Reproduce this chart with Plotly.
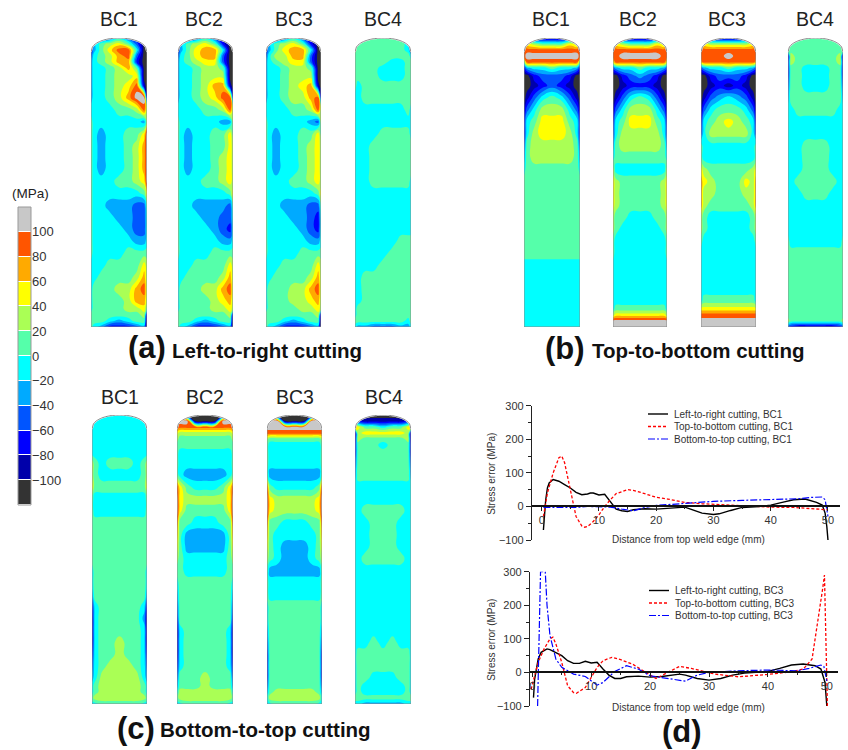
import numpy as np
import plotly.graph_objects as go

W, H = 848, 750
# contour grid: column position (fraction of plate width) and row position (px-like height units)
COLS = [0, .05, .18, .33, .5, .67, .82, .95, 1]
ROWS = [0,6,12,18,24,30,38,48,60,72,84,96,108,120,132,144,156,168,180,192,204,216,228,240,252,264,272,278,284,290]
# band letter -> stress in MPa (mid-band)
BANDS = "abcdefghijkl"
BAND_MPA = [-110,-90,-70,-50,-30,-10,10,30,50,70,90,110]
BAND_COLORS = ["#333333","#0000aa","#0000ff","#0055ff","#00aaff","#00ffff","#55ffaa","#aaff55","#ffff00","#ffaa00","#ff5500","#c8c8c8"]
COLORBAR_TICKS = [-100,-80,-60,-40,-20,0,20,40,60,80,100]

A_BC1 = ["cccdfdcaa","ceghigdaa","cegikkfaa","dfghjkdaa","efghjjcaa","effghjgaa","effghhiaa","effghikba","effghjllb","ffffgghkh",
"gffffffeh","gfeffggil","gfeffghjl","gfeffghjl","gfeffghjl","gfffgghil","gffffffgi","gffeeeddg","gfffeeddf","gffffeddf",
"gfffffeef","gffffgggg","fffggggih","ffgggghjh","fggghhjkh","fgggghjjh","fgggghhig","ggggggghb","gggfefgga","gfecccdea"]
A_BC2 = ["cccdfdbaa","ceghigcaa","cegijjfaa","dfgijjdaa","efghiidaa","effghhgaa","effghhhaa","effghjjba","effghikkc","ffffgghkh",
"gfffffeeh","gfeffggig","gfeffggih","gfeffghih","gfeffghih","gfffgghih","gffffffgi","gffeeeedg","gfffeeddf","gffffedcf",
"gfffffeef","gffffgggg","fffggggih","ffgggghjh","fggghhjkh","fgggghijh","fgggghhih","ggggggghb","gggfefgga","gfecccdea"]
A_BC3 = ["cccdfdbaa","ceghigcaa","cegijjfaa","dfhhjjdaa","efghiidaa","effghhgaa","effghhhaa","effghijba","effghhjkc","ffffgghkh",
"gfffffedh","gfeffggig","gfeffghih","gfeffghih","gfeffghih","gfffgghih","gffffffgi","gffeeeddg","gfffeedcf","gffffedcf",
"gfffffeef","gffffgggg","fffggggih","ffgggghjh","fggghhjkh","fggghhijh","fgggghhih","ggggggghb","gggfefgga","gfecccdea"]
A_BC4 = ["cegggggec","eggggggfd","hggggggfd","ggggggggf","gggggffgg","ggggfffgg","ggggfffgg","gfggggggg","ffggggggg","fffffffgf",
"fffffffff","ffffggggf","fffgggggg","fffgggggg","fffgggggg","fffgggggf","fffffffff","fffffffff","fffffffff","fffffffff",
"ffffffggg","fffffgggg","ffffggggg","ffggggggg","ffggggggg","ffggggggg","fgggggggg","fgggggggg","gggggggfg","feedddeef"]

B_BC1 = ["ddcbbbcdd","jihgggihj","kkkkkkkkk","klllllllk","gkkkkkkkg","ceffgffec","aacdddcaa","aabcdcbaa","abdfgfdba","bdfhhhfdb",
"cfgiiigfc","cfhiiihfc","dghhhhhgd","eghhhhhge","fgggggggf","ggggggggg","ggggggggg","ggggggggg","ggggggggg","ggggggggg",
"ggggggggg","ggggggggg","fffffffff","fffffffff","fffffffff","fffffffff","fffffffff","fffffffff","fffffffff","fffffffff"]
B_BC2 = ["ddcbbbcdd","jihgggihj","kkkkkkkkk","kklllllkk","ikkkkkkki","deffgffed","aacdedcaa","aabcccbaa","abdfgfdba","bdfhhhfdb",
"cfgiiigfc","dfhhhhhfd","eghhhhhge","fgggggggf","hfffffffh","ihggggghi","ihggggghi","ihggggghi","hggfffggh","hgfffffgh",
"gfffffffg","gfffffffg","fffffffff","fffffffff","fffffffff","fffffffff","fgggggggf","hiiiiiiih","lllllllll","lllllllll"]
B_BC3 = ["ddcbbbcdd","jihhhhhij","kkkkkkkkk","kkkklkkkk","jkkkkkkkj","deffgffed","aacdddcaa","aabcbcbaa","abdefedba","bdfgggfdb",
"cfghihgfc","dfhhhhhfd","gfffffffg","gfffffffg","ihggggghi","jihgggihj","jhhggghhj","jhggggghj","hgfffffgh","hgfffffgh",
"gfffffffg","fffffffff","fffffffff","fffffffff","fffffffff","fgggggggf","iiiiiiiii","kkkkkkkkk","lllllllll","lllllllll"]
B_BC4 = ["dfgggggfd","fgggggggf","hgggggggh","bhggggghb","chggggghc","cggfffggc","cggfffggc","dggfffggd","eggggggge","ffgggggff",
"fffffffff","fffffffff","fffgggfff","fffgggfff","fffgggfff","ffgggggff","fffgggfff","fffffffff","fffffffff","fffffffff",
"gfffffffg","ggggggggg","ggggggggg","ggggggggg","ggggggggg","ggggggggg","ggggggggg","ggggggggg","hgggggggh","dcbbbbbcd"]

C_BC1 = ["fffffffff","fffffffff","fffffffff","fffffffff","fffffffff","fffffffff","fffffffff","hgfgggfgh","hgfffffgh","igggggggi",
"gfffffffg","gfffffffg","ggggggggg","ggggggggg","ggggggggg","ggggggggg","fgggggggf","fgggggggf","eggggggge","cfgggggfc",
"bfgggggeb","bfgggggfb","bfgghggfb","cfgghggfc","dfghhhgfd","efhhhhhfe","fghhhhhgf","fghhhhhgf","ghhhhhhhg","ffgggggff"]
C_BC2 = ["aaaaaaaaa","lllaaalll","kkkkkkkkk","ihhhhhhhi","hgggggggh","ggggggggg","gfffffffg","gfffffffg","gfeeeeefg","kigfffgik",
"lihhhhhil","ligggggil","kggfffggk","jgeeeeegj","igeeeeegi","hgfffffgh","ggfffffgg","fgggggggf","eggggggge","dgggggggd",
"cgggggggc","bfgggggfb","bfgggggfb","bfgggggfb","cfgggggfc","dggghgggd","eggghggge","fhhhhhhhf","ghhhhhhhg","ffgggggff"]
C_BC3 = ["aaaaaaaaa","lllaaalll","lllllllll","kkkkkkkkk","hgggggggh","gfffffffg","gfffffffg","gfffffffg","geeeeeeeg","kgfffffgk",
"lihhhhhil","lihhhhhil","kggfffggk","jgfffffgj","igfeeefgi","hgfeeefgh","geeeeeeeg","gfffffffg","gfffffffg","fgggggggf",
"fgggggggf","eggggggge","dgggggggd","cgggggggc","cgggggggc","cgggggggc","dgggggggd","eghhhhhge","fhhhhhhhf","ffgggggff"]
C_BC4 = ["aaaaaaaaa","dcbbbbbcd","kiggfggik","bhiiiiihb","bhggggghb","cgggfgggc","cgggggggc","dgggggggd","eggggggge","fffffffff",
"fffffffff","ffgggggff","fffgggfff","fffgggfff","fffgggfff","ffgggggff","fffffffff","fffffffff","fffffffff","fffffffff",
"fffffffff","fffffffff","fffgfgfff","fgggggggf","fgggggggf","fggfffggf","fgfffffgf","fgfffffgf","ggggggggg","ffeeeeeff"]

# line data
D1_X_BLACK = [0.3,0.5,0.7,1,1.3,2,3,4,5,6,7,8,8.5,9,10,11,12,13,14,15,16,18,20,22,24,25,26,27,28,30,31,33,35,38,40,42,44,46,47,48,49,49.5,49.8,50]
D1_Y_BLACK = [-70,-20,20,55,70,80,75,65,55,42,35,37,40,40,34,36,15,-8,-13,-15,-10,-7,-8,-6,-3,-2,-8,-15,-20,-24,-22,-12,-3,0,4,12,20,22,18,12,4,-20,-60,-100]
D1_X_RED = [0.3,0.6,1,2,3,3.5,4,5,6,7,7.5,8,9,10,11,12,13,15,16,18,20,22,25,28,30,33,36,38,40,44,47,49,50]
D1_Y_RED = [-30,0,40,100,145,150,130,50,-30,-58,-62,-60,-45,-25,0,20,38,50,48,38,27,22,12,8,6,3,1,0,-2,-3,-7,-9,-10]
D1_X_BLUE = [0.3,3,6,8,10,12,14,16,18,20,25,30,35,40,45,47,49,49.5,50]
D1_Y_BLUE = [-3,-3,-3,0,-2,-2,-8,-13,-3,3,9,15,18,20,23,27,28,20,-30]
D2_X_BLACK = [0.2,0.4,1,1.5,2,2.5,3,4,5,6,7,8,9,10,11,12,13,14,15,16,18,20,22,25,26,28,30,32,34,36,40,42,44,46,48,49,49.7,50]
D2_Y_BLACK = [-75,-20,40,60,65,70,68,60,50,35,27,27,33,28,30,10,-8,-18,-18,-13,-11,-14,-12,-5,-8,-18,-23,-18,-8,-2,3,12,22,25,20,10,-30,-100]
D2_X_RED = [-0.2,0.5,1,2,3,3.5,4,5,6,7,7.5,9,10,11,12,13.5,15,17,19,21,23,25,27,29,31,35,40,44,46,47.5,48.5,49.3,49.6,49.9,50.1]
D2_Y_RED = [-50,0,30,70,100,105,85,30,-40,-60,-62,-45,-15,15,35,45,38,25,3,-18,0,18,12,3,-5,-13,-6,2,10,40,150,250,290,100,-100]
D2_X_BLUE = [0.9,1,1.2,1.4,2.2,2.5,3,4,5,7,9,10,11,12,14,16,18,20,23,26,28,30,35,40,45,47,49,49.5,50]
D2_Y_BLUE = [-100,0,200,300,300,200,110,40,15,-5,-12,-25,-38,-30,3,20,10,-10,-18,-26,-8,0,5,7,5,12,22,18,-25]

PANELS = [
    (A_BC1,91,147,38),(A_BC2,178,233,38),(A_BC3,266,321,38),(A_BC4,355,411,38),
    (B_BC1,524,580,38),(B_BC2,613,667,38),(B_BC3,701,756,38),(B_BC4,788,843,38),
    (C_BC1,92,147,415),(C_BC2,177,233,415),(C_BC3,267,322,415),(C_BC4,355,411,415),
]
PANEL_H, DOME_H = 289, 14

n = len(BANDS)
cscale = []
for i, c in enumerate(BAND_COLORS):
    cscale += [[i/n, c], [(i+1)/n, c]]

# plotly keeps 6 px above and below the plot area on this figure (free axes), so fractions are taken inside that area
PAD = 6
def fx(px): return px/W
def fy(py): return (H-PAD-py)/(H-2*PAD)

fig = go.Figure()
lay = dict(width=W, height=H, margin=dict(l=0,r=0,t=0,b=0,pad=0), paper_bgcolor="white", plot_bgcolor="rgba(0,0,0,0)",
           showlegend=False, autosize=False, font=dict(family="Liberation Sans, Arial, sans-serif", color="#333"))
shapes, ann = [], []
t = np.linspace(0, 1, 41)
dome_y = DOME_H*(1-np.sqrt(np.clip(1-(2*t-1)**2, 0, 1))**0.9)

for k, (rows, x0, x1, ytop) in enumerate(PANELS, start=1):
    z = [[BAND_MPA[BANDS.index(ch)] for ch in r] for r in rows]
    assert len(z) == len(ROWS) and all(len(r) == len(COLS) for r in z), k
    fig.add_trace(go.Contour(x=COLS, y=ROWS, z=z, xaxis=f"x{k}", yaxis=f"y{k}", colorscale=cscale, zmin=-120, zmax=120,
                             autocontour=False, contours=dict(start=-100,end=100,size=20,coloring="fill",showlines=False),
                             line=dict(width=0,smoothing=1.3), showscale=False, hoverinfo="skip"))
    lay[f"xaxis{k}"] = dict(domain=[fx(x0),fx(x1)], range=[0,1], visible=False, anchor=f"y{k}", fixedrange=True)
    lay[f"yaxis{k}"] = dict(domain=[fy(ytop+PANEL_H),fy(ytop)], range=[290,0], visible=False, anchor=f"x{k}", fixedrange=True)
    dome = " ".join(f"L {a:.3f} {b:.2f}" for a, b in zip(t, dome_y))
    shapes.append(dict(type="path", xref=f"x{k}", yref=f"y{k}", path=f"M 0 0 {dome} L 1 0 Z", fillcolor="white", line=dict(width=1.5,color="white"), layer="above"))
    outline = "M" + dome[1:] + " L 1 290 L 0 290 Z"
    shapes.append(dict(type="path", xref=f"x{k}", yref=f"y{k}", path=outline, fillcolor="rgba(0,0,0,0)", line=dict(width=1,color="#8a8a8a"), layer="above"))

# colour bar
cb = len(PANELS)+1
fig.add_trace(go.Heatmap(z=[[v] for v in BAND_MPA], y=BAND_MPA, x=[0], xaxis=f"x{cb}", yaxis=f"y{cb}", colorscale=cscale, zmin=-120, zmax=120,
                         showscale=False, hoverinfo="skip", ygap=1))
lay[f"xaxis{cb}"] = dict(domain=[fx(18),fx(31)], visible=False, anchor=f"y{cb}", range=[-.5,.5], fixedrange=True)
lay[f"yaxis{cb}"] = dict(domain=[fy(505),fy(207)], range=[-120,120], side="right", anchor=f"x{cb}", tickvals=COLORBAR_TICKS,
                         ticks="", showgrid=False, zeroline=False, showline=False, tickfont=dict(size=13,color="#333"), fixedrange=True)

# full-page helper axes: text and legend keys are placed in page pixels
PG = cb+3
fig.add_trace(go.Scatter(x=[0], y=[0], mode="markers", marker=dict(opacity=0,size=1), xaxis=f"x{PG}", yaxis=f"y{PG}", hoverinfo="skip"))
lay[f"xaxis{PG}"] = dict(domain=[0,1], range=[0,W], visible=False, anchor=f"y{PG}", fixedrange=True)
lay[f"yaxis{PG}"] = dict(domain=[0,1], range=[H-PAD,PAD], visible=False, anchor=f"x{PG}", fixedrange=True)
PX, PY = f"x{PG}", f"y{PG}"
shapes.append(dict(type="rect", xref=PX, yref=PY, x0=18, x1=31, y0=505, y1=207, line=dict(color="#999",width=1)))

# line charts
CHARTS = [
    dict(x0=531,x1=840,ytop=405.7,ybot=540,xr=(-1.87,52.1),leg_y=414,suffix="BC1",
         series=[(D1_X_BLACK,D1_Y_BLACK),(D1_X_RED,D1_Y_RED),(D1_X_BLUE,D1_Y_BLUE)],title_y=539,key_x=(648,668),txt_x=672),
    dict(x0=529,x1=838,ytop=571.7,ybot=706,xr=(-0.56,51.9),leg_y=590.5,suffix="BC3",
         series=[(D2_X_BLACK,D2_Y_BLACK),(D2_X_RED,D2_Y_RED),(D2_X_BLUE,D2_Y_BLUE)],title_y=707,key_x=(649,669),txt_x=673),
]
LINE_STYLES = [("#000000","solid",1.4),("#ff0000","3px,2px",1.3),("#0000ff","7px,2px,2px,2px",1.2)]
LEGEND_NAMES = ["Left-to-right cutting","Top-to-bottom cutting","Bottom-to-top cutting"]
def text(txt, x, y, size, color="#222", anchor="center", angle=0):
    ann.append(dict(text=txt, xref=PX, yref=PY, x=x, y=y, xanchor=anchor, yanchor="middle", textangle=angle, showarrow=False, font=dict(size=size,color=color)))
for j, c in enumerate(CHARTS):
    xa = ya = cb+1+j
    for (xs, ys), (col, dash, lw), name in zip(c["series"], LINE_STYLES, LEGEND_NAMES):
        fig.add_trace(go.Scatter(x=xs, y=ys, mode="lines", name=f"{name}, {c['suffix']}", line=dict(color=col,dash=dash,width=lw),
                                 xaxis=f"x{xa}", yaxis=f"y{ya}", cliponaxis=True))
    zero_px = c["ybot"]-(c["ybot"]-c["ytop"])*100/400
    lay[f"xaxis{xa}"] = dict(domain=[fx(c["x0"]),fx(c["x1"])], range=list(c["xr"]), anchor="free", position=fy(zero_px),
        tickvals=[0,10,20,30,40,50], ticks="outside", ticklen=4, tickcolor="#222", showline=True, linecolor="#111", linewidth=1.5,
        showgrid=False, zeroline=False, tickfont=dict(size=11,color="#333"), minor=dict(dtick=5,ticks="outside",ticklen=2,tickcolor="#222"))
    lay[f"yaxis{ya}"] = dict(domain=[fy(c["ybot"]),fy(c["ytop"])], range=[-100,300], anchor="free", position=fx(c["x0"]),
        tickvals=[-100,0,100,200,300], ticks="outside", ticklen=5, tickcolor="#222", showline=True, linecolor="#222", linewidth=1.2,
        showgrid=False, zeroline=False, tickfont=dict(size=11,color="#333"), minor=dict(dtick=50,ticks="outside",ticklen=3,tickcolor="#222"))
    text("Distance from top weld edge (mm)", 688, c["title_y"], 10, "#333")
    text("Stress error (MPa)", 492, (c["ytop"]+c["ybot"])/2+1, 10, "#333", angle=-90)
    for i, ((col,dash,lw), name) in enumerate(zip(LINE_STYLES, LEGEND_NAMES)):
        ly = c["leg_y"]+i*12.5
        shapes.append(dict(type="line", xref=PX, yref=PY, x0=c["key_x"][0], x1=c["key_x"][1], y0=ly, y1=ly, line=dict(color=col,dash=dash,width=lw)))
        text(f"{name}, {c['suffix']}", c["txt_x"], ly, 10, "#333", anchor="left")

for txt, x, y in [("BC1",119,19),("BC2",204,19),("BC3",294,19),("BC4",383,19),
                  ("BC1",551,19),("BC2",638,19),("BC3",727,19),("BC4",815,19),
                  ("BC1",120,397),("BC2",205,397),("BC3",295,397),("BC4",384,397)]:
    text(txt, x, y, 19.5)
text("(MPa)", 30, 193, 13.5)
for txt, x, y in [("(a)",147,347),("(b)",565,348),("(c)",136,728),("(d)",682,731)]:
    text(f"<b>{txt}</b>", x, y, 31, "#111")
for txt, x, y in [("Left-to-right cutting",267,350),("Top-to-bottom cutting",698,350),("Bottom-to-top cutting",265,729)]:
    text(f"<b>{txt}</b>", x, y, 20.5, "#111")

lay["shapes"] = shapes
lay["annotations"] = ann
fig.update_layout(**lay)
fig.write_html("out.html", config=dict(displayModeBar=False), post_script="document.body.style.margin='0';document.body.style.overflow='hidden';")
